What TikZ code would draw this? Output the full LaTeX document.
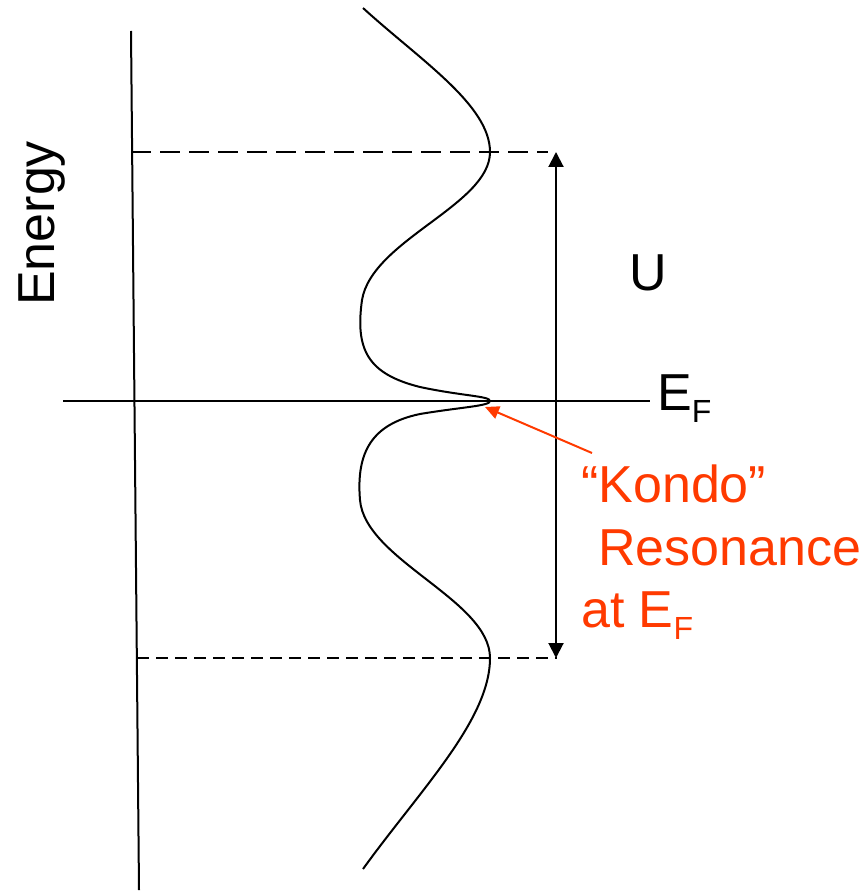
\documentclass[tikz,border=0pt]{standalone}
\usepackage{fontspec}
\setmainfont{Liberation Sans}
\usetikzlibrary{arrows.meta}
\definecolor{kred}{RGB}{255,58,0}
\tikzset{
  thinline/.style={line width=2pt, black},
  lbl/.style={inner sep=0pt, anchor=base west, font=\fontsize{52}{62}\selectfont},
  dashA/.style={line width=2pt, dash pattern=on 20pt off 9pt},
  dashB/.style={line width=2pt, dash pattern=on 12pt off 7pt},
  tip/.style={-{Triangle[length=14pt,width=13pt]}}
}
\newcommand{\subF}{\raisebox{-12pt}{\fontsize{32}{32}\selectfont F}}
\begin{document}
\begin{tikzpicture}[x=1pt,y=-1pt]
\useasboundingbox (0,0) rectangle (862,893);
% coordinates
\coordinate (axT) at (131,31);
\coordinate (axB) at (139,890);
\coordinate (efL) at (63,401);
\coordinate (efR) at (650,401);
\coordinate (topL) at (131,152);
\coordinate (topR) at (548,152);
\coordinate (botL) at (137,658);
\coordinate (botR) at (557,658);
\coordinate (uT) at (556,152);
\coordinate (uB) at (556,658);
\coordinate (kTip) at (485,407);
\coordinate (kTail) at (592,453);
% axis
\draw[thinline] (axT) -- (axB);
\draw[thinline] (efL) -- (efR);
% dashed
\draw[dashA] (topL) -- (topR);
\draw[dashB] (botL) -- (botR);
% U arrow
\draw[thinline, {Triangle[length=15pt,width=15pt]}-{Triangle[length=15pt,width=15pt]}] (uT) -- (uB);
% curve
\draw[thinline] (363,8) .. controls (420,60) and (490,105) .. (490,152)
  .. controls (490,205) and (372,240) .. (362,300)
  .. controls (355,350) and (368,374) .. (420,387)
  .. controls (462,396) and (490,396) .. (490,401)
  .. controls (490,406) and (462,407) .. (420,414)
  .. controls (372,424) and (356,452) .. (360,500)
  .. controls (365,560) and (490,600) .. (490,658)
  .. controls (490,720) and (420,790) .. (363,869);
% red arrow
\draw[line width=2pt, kred, tip] (kTail) -- (kTip);
% labels
\node[lbl, rotate=90] (energy) at (54,306) {Energy};
\node[lbl] (U) at (629,290) {U};
\node[lbl] (EF) at (657,410) {E\subF};
\node[lbl, text=kred] (k1) at (581,502) {“Kondo”};
\node[lbl, text=kred] (k2) at (598,565) {Resonance};
\node[lbl, text=kred] (k3) at (581,627) {at E\subF};
\end{tikzpicture}
\end{document}
